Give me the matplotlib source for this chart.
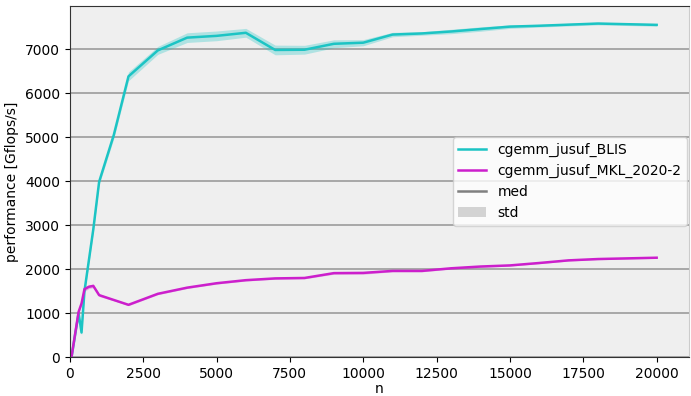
import matplotlib
matplotlib.use("Agg")
import matplotlib.pyplot as plt
from matplotlib.lines import Line2D
from matplotlib.patches import Patch
import numpy as np

# problem sizes and measured performance (median and std) in Gflops/s
n = [64, 300, 400, 500, 650, 800, 1000, 1500, 2000, 3000, 4000, 5000, 6000,
     7000, 8000, 9000, 10000, 11000, 12000, 13000, 14000, 15000, 16000,
     17000, 18000, 19000, 20000]

blis_med = [20, 1000, 560, 1500, 2200, 2900, 3985, 5050, 6380, 6970, 7260,
            7300, 7370, 6980, 6985, 7120, 7145, 7330, 7355, 7400, 7455,
            7510, 7530, 7555, 7580, 7565, 7550]
blis_std = [10, 60, 60, 60, 60, 60, 60, 80, 100, 90, 110, 110, 100, 110,
            100, 90, 70, 50, 40, 50, 50, 40, 30, 30, 30, 30, 30]

mkl_med = [30, 1030, 1220, 1545, 1600, 1620, 1410, 1300, 1190, 1440, 1580,
           1680, 1750, 1790, 1800, 1910, 1915, 1960, 1960, 2020, 2060,
           2085, 2140, 2200, 2230, 2245, 2260]
mkl_std = [10, 40, 40, 50, 40, 40, 30, 20, 20, 20, 20, 20, 20, 20, 20, 25,
           30, 20, 20, 20, 20, 15, 15, 15, 15, 15, 15]

labels = ["cgemm_jusuf_BLIS", "cgemm_jusuf_MKL_2020-2"]
colors = ["#1cc4c4", "#cc1fcc"]

fig = plt.figure(figsize=(6.91, 3.96), dpi=100)
ax = fig.add_axes([0.101, 0.098, 0.896, 0.887])
ax.set_facecolor("#efefef")

x = np.array(n)
for med, std, c in [(blis_med, blis_std, colors[0]), (mkl_med, mkl_std, colors[1])]:
    med = np.array(med)
    std = np.array(std)
    ax.fill_between(x, med - std, med + std, color=c, alpha=0.3, lw=0)
    ax.plot(x, med, color=c, lw=1.8)

ax.set_xlim(0, 21100)
ax.set_ylim(0, 7980)
ax.set_yticks(range(0, 8000, 1000))
ax.set_xticks(range(0, 20001, 2500))
ax.grid(axis="y", color="#a8a8a8", lw=1.4)
ax.set_axisbelow(True)
ax.set_xlabel("n", labelpad=1)
ax.set_ylabel("performance [Gflops/s]")
for s in ["left", "bottom", "top"]:
    ax.spines[s].set_color("#333333")
ax.spines["right"].set_color("#cccccc")

handles = [Line2D([], [], color=colors[0], lw=1.8),
           Line2D([], [], color=colors[1], lw=1.8),
           Line2D([], [], color="gray", lw=1.8),
           Patch(facecolor="lightgray", edgecolor="none")]
ax.legend(handles, labels + ["med", "std"], loc="center right",
          fontsize=10, framealpha=0.8, borderaxespad=0.15)

fig.savefig("out.png", dpi=100)
